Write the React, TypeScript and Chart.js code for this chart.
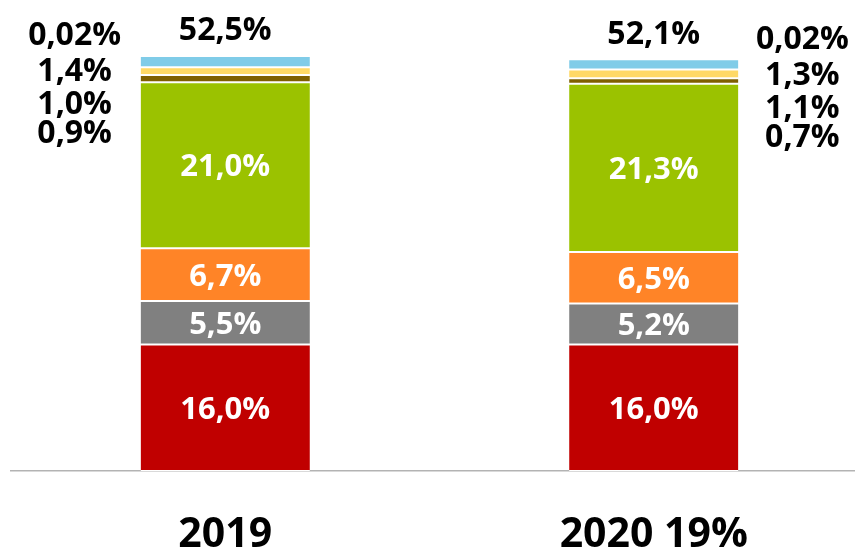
import React, { useEffect, useRef } from 'react';
import { Chart, registerables } from 'chart.js';

Chart.register(...registerables);

// ---- data ----
const categories = ['2019', '2020 19%'];
const redValues = [16.0, 16.0];
const grayValues = [5.5, 5.2];
const orangeValues = [6.7, 6.5];
const greenValues = [21.0, 21.3];
const brownValues = [0.9, 0.7];
const yellowValues = [1.0, 1.1];
const blueValues = [1.4, 1.3];
const smallestValues = [0.02, 0.02];

const fmt = (v: number) => (v < 0.1 ? v.toFixed(2) : v.toFixed(1)).replace('.', ',') + '%';

const FONT = '"Open Sans", "Noto Sans", sans-serif';
const sideOffsets = [-22, 14, 47, 76];

function drawText(ctx: CanvasRenderingContext2D, text: string, x: number, cy: number, size: number, color: string) {
  ctx.font = `bold ${size}px ${FONT}`;
  ctx.fillStyle = color;
  ctx.textAlign = 'center';
  ctx.textBaseline = 'alphabetic';
  ctx.fillText(text, x, cy + size * 0.357);
}

const labelPlugin = {
  id: 'segLabels',
  afterDatasetsDraw(chart: any) {
    const ctx: CanvasRenderingContext2D = chart.ctx;
    ctx.save();
    const datasets = chart.data.datasets;
    const n = chart.data.labels.length;
    for (let j = 0; j < n; j++) {
      let topY = Infinity;
      let barX = 0;
      let barW = 0;
      datasets.forEach((ds: any, i: number) => {
        const el: any = chart.getDatasetMeta(i).data[j];
        topY = Math.min(topY, el.y, el.base);
        barX = el.x;
        barW = el.width;
        if (ds.labelMode === 'inside') {
          drawText(ctx, fmt(ds.data[j]), el.x, (el.y + el.base) / 2, 31, '#ffffff');
        }
      });
      const total = datasets.reduce((s: number, ds: any) => s + ds.data[j], 0);
      drawText(ctx, fmt(total), barX, topY - 27, 32, '#000000');
      const cx = j === 0 ? barX - barW / 2 - 66 : barX + barW / 2 + 64;
      const smalls = datasets.filter((ds: any) => ds.labelMode === 'side').slice().reverse();
      smalls.forEach((ds: any, k: number) => {
        drawText(ctx, fmt(ds.data[j]), cx, topY + sideOffsets[k], 32, '#000000');
      });
    }
    ctx.restore();
  },
};

const segStyle = {
  borderColor: '#ffffff',
  borderWidth: { top: 1, bottom: 1, left: 0, right: 0 },
  borderSkipped: false,
  barPercentage: 0.395,
  categoryPercentage: 1,
};

export default function App() {
  const ref = useRef<HTMLCanvasElement | null>(null);
  useEffect(() => {
    if (!ref.current) return;
    const chart = new Chart(ref.current, {
      type: 'bar',
      data: {
        labels: categories,
        datasets: [
          { label: 'Red', data: redValues, backgroundColor: '#C00000', labelMode: 'inside', ...segStyle },
          { label: 'Gray', data: grayValues, backgroundColor: '#808080', labelMode: 'inside', ...segStyle },
          { label: 'Orange', data: orangeValues, backgroundColor: '#FF8427', labelMode: 'inside', ...segStyle },
          { label: 'Green', data: greenValues, backgroundColor: '#9BC200', labelMode: 'inside', ...segStyle },
          { label: 'Brown', data: brownValues, backgroundColor: '#7F6000', labelMode: 'side', ...segStyle },
          { label: 'Yellow', data: yellowValues, backgroundColor: '#FFD966', labelMode: 'side', ...segStyle },
          { label: 'Blue', data: blueValues, backgroundColor: '#80CCE8', labelMode: 'side', ...segStyle },
          { label: 'Other', data: smallestValues, backgroundColor: '#4472C4', labelMode: 'side', ...segStyle },
        ] as any,
      },
      options: {
        animation: false,
        responsive: false,
        layout: { padding: { left: 11, right: 2, top: 0, bottom: 0 } },
        plugins: { legend: { display: false }, tooltip: { enabled: false } },
        scales: {
          x: {
            stacked: true,
            grid: { display: false, drawTicks: false },
            border: { display: true, color: '#b3b3b3', width: 1.5 },
            ticks: {
              color: '#000000',
              padding: 40,
              font: { family: FONT, size: 41, weight: 'bold' },
            },
            afterFit: (scale: any) => {
              scale.height = 81;
            },
          },
          y: {
            stacked: true,
            display: false,
            min: 0,
            max: 59.6,
          },
        },
      } as any,
      plugins: [labelPlugin],
    });
    return () => chart.destroy();
  }, []);
  return (
    <div style={{ position: 'absolute', left: 0, top: 0, width: 855, height: 552, overflow: 'hidden' }}>
      <canvas ref={ref} width={870} height={552} style={{ display: 'block' }} />
    </div>
  );
}
